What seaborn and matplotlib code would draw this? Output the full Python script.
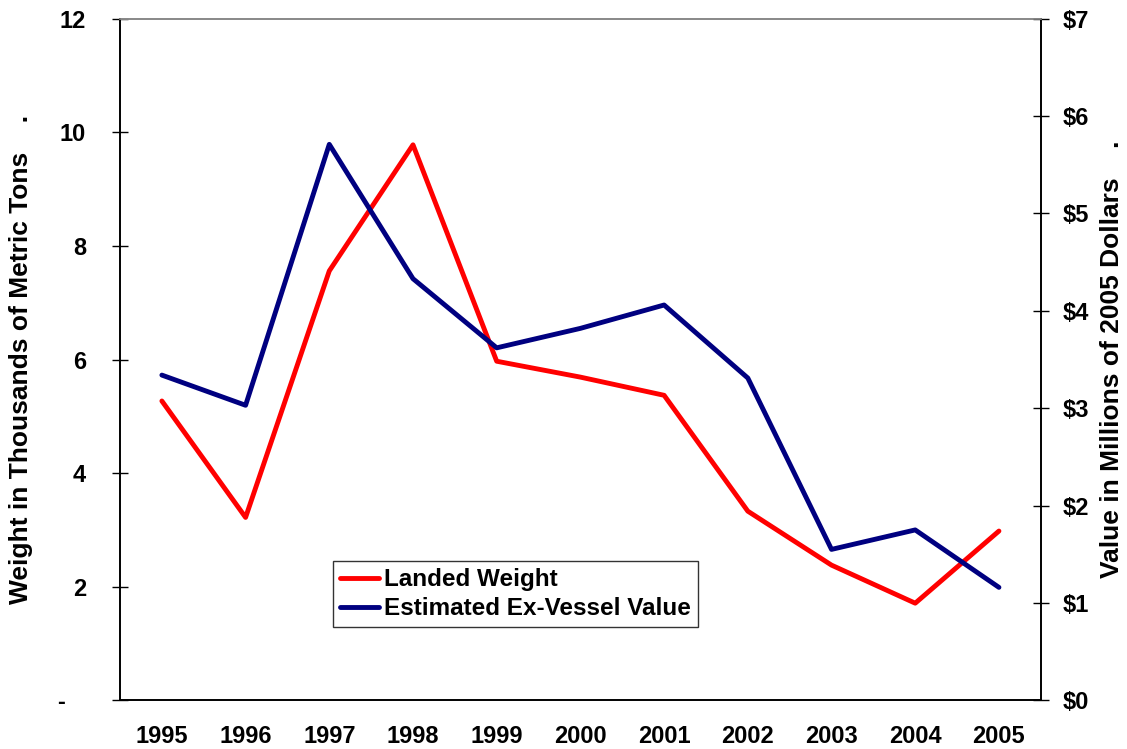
import matplotlib
matplotlib.use('Agg')
import matplotlib.pyplot as plt
import numpy as np
import pandas as pd
import seaborn as sns

years = ['1995', '1996', '1997', '1998', '1999', '2000', '2001', '2002', '2003', '2004', '2005']
landed_weight = [5.27, 3.22, 7.56, 9.78, 5.97, 5.69, 5.37, 3.33, 2.38, 1.71, 2.98]  # thousand metric tons
exvessel_value = [3.34, 3.03, 5.71, 4.33, 3.62, 3.82, 4.06, 3.31, 1.55, 1.75, 1.16]  # million 2005 dollars
left_ticks = [0, 2, 4, 6, 8, 10, 12]
left_labels = ['-   ', '2', '4', '6', '8', '10', '12']
right_ticks = [0, 1, 2, 3, 4, 5, 6, 7]

df = pd.DataFrame({'pos': np.arange(len(years)), 'year': years,
                   'weight': landed_weight, 'value': exvessel_value})

sns.set_style('white')
plt.rcParams['font.family'] = ['Liberation Sans', 'DejaVu Sans']
plt.rcParams['font.weight'] = 'bold'
plt.rcParams['text.color'] = 'black'
plt.rcParams['axes.labelcolor'] = 'black'
plt.rcParams['xtick.color'] = 'black'
plt.rcParams['ytick.color'] = 'black'

fig, ax = plt.subplots(figsize=(11.27, 7.49), dpi=100)
fig.subplots_adjust(left=0.1065, right=0.9235, top=0.975, bottom=0.065)
ax2 = ax.twinx()

sns.lineplot(data=df, x='pos', y='weight', ax=ax, color='#ff0000', lw=3.5,
             label='Landed Weight', legend=False)
sns.lineplot(data=df, x='pos', y='value', ax=ax2, color='#000080', lw=3.5,
             label='Estimated Ex-Vessel Value', legend=False)

ax.set_xlim(-0.5, len(years) - 0.5)
ax.set_ylim(0, 12)
ax2.set_ylim(0, 7)

ax.set_xticks(df['pos'])
ax.set_xticklabels(years, fontsize=17, fontweight='bold')
ax.set_xticks(np.arange(-0.5, len(years), 1), minor=True)
ax.tick_params(axis='x', which='major', length=0, pad=18)
ax.tick_params(axis='x', which='minor', length=11, direction='inout', width=1.2, color='#333333')

ax.set_yticks(left_ticks)
ax.set_yticklabels(left_labels, fontsize=17, fontweight='bold')
ax.tick_params(axis='y', length=11, direction='inout', width=1, pad=19, left=True)
ax2.set_yticks(right_ticks)
ax2.set_yticklabels(['$' + str(t) for t in right_ticks], fontsize=17, fontweight='bold')
ax2.tick_params(axis='y', length=11, direction='inout', width=1, pad=10, right=True)

ax.set_xlabel('')
ax.set_ylabel('Weight in Thousands of Metric Tons    .', fontsize=19, fontweight='bold')
ax.yaxis.set_label_coords(-0.094, 0.5)
ax2.set_ylabel('Value in Millions of 2005 Dollars    .', fontsize=19, fontweight='bold', labelpad=8)

for a in (ax, ax2):
    for s in a.spines.values():
        s.set_linewidth(1.2)
        s.set_color('black')
    a.spines['top'].set_color('#888888')
    a.grid(False)

h1, l1 = ax.get_legend_handles_labels()
h2, l2 = ax2.get_legend_handles_labels()
leg = ax2.legend(h1 + h2, l1 + l2, loc='lower left', bbox_to_anchor=(0.231, 0.107),
                 fontsize=17.5, frameon=True, fancybox=False, edgecolor='black',
                 handlelength=1.6, handletextpad=0.2, borderpad=0.3, labelspacing=0.25,
                 borderaxespad=0)
leg.get_frame().set_linewidth(1.0)
for t in leg.get_texts():
    t.set_fontweight('bold')

fig.savefig('out.png', dpi=100)
